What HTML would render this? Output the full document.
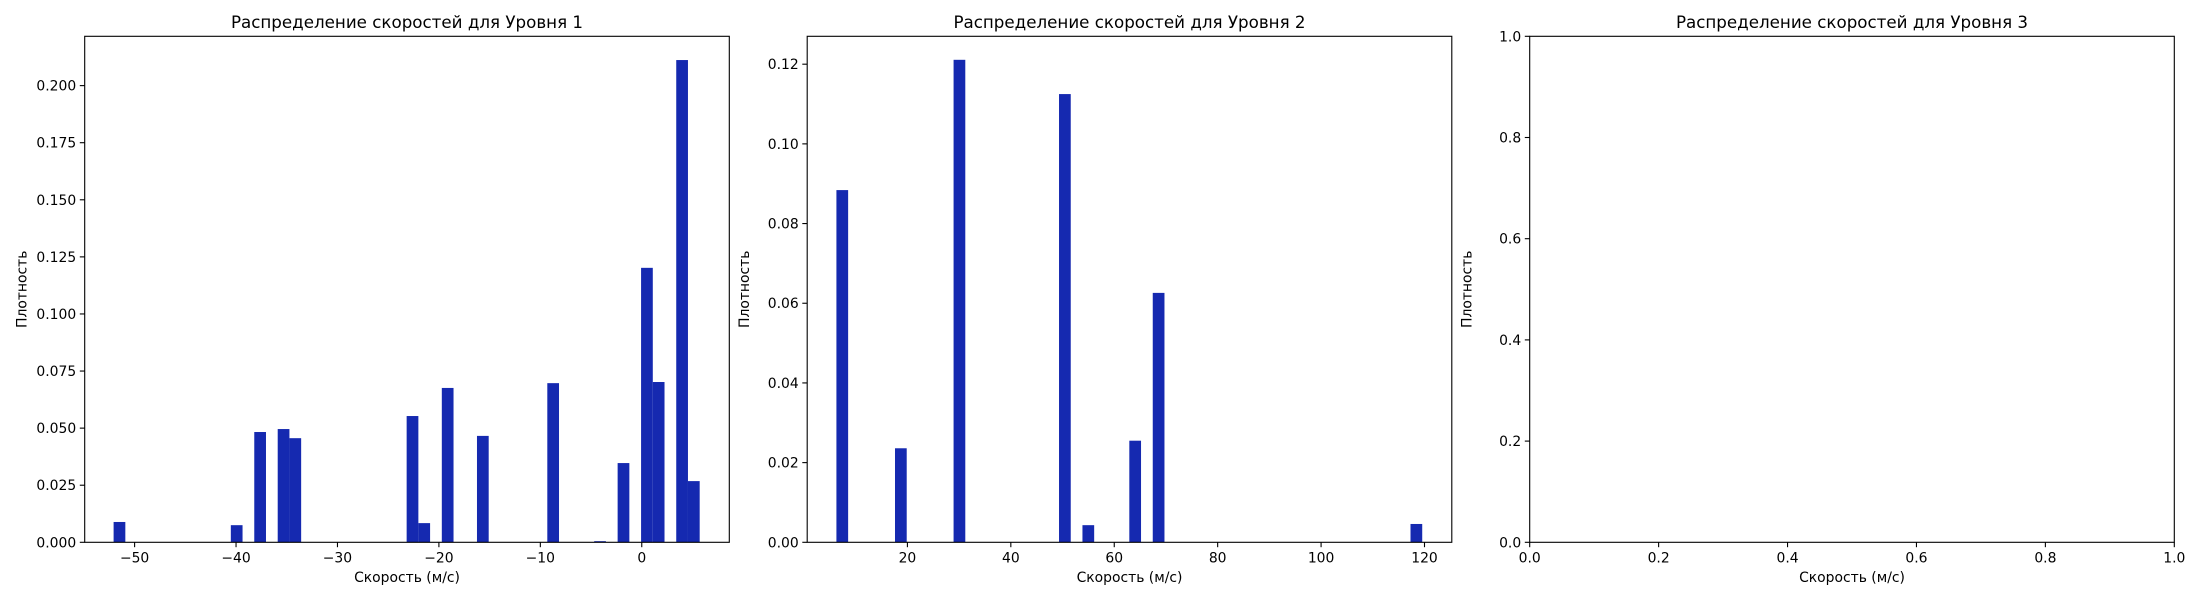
<!DOCTYPE html>
<html><head><meta charset="utf-8">
<style>
html,body{margin:0;padding:0;background:#fff;}
svg{display:block;font-family:"DejaVu Sans","Liberation Sans",sans-serif;}
</style></head>
<body>
<svg id="fig" width="2200" height="600" viewBox="0 0 2200 600" xmlns="http://www.w3.org/2000/svg"></svg>
<script>
// Panel 1 data
const p1Bins = [0,10,12,14,15,25,26,28,31,37,41,43,45,46,48,49];
const p1Values = [0.0089,0.0075,0.0483,0.0496,0.0456,0.0553,0.0084,0.0676,0.0466,0.0697,0.0005,0.0347,0.1202,0.0702,0.2112,0.0268];
const p1Range = [-52.07, 5.71];
const p1XTicks = [-50,-40,-30,-20,-10,0];
const p1YTicks = ["0.000","0.025","0.050","0.075","0.100","0.125","0.150","0.175","0.200"];
// Panel 2 data
const p2Bins = [0,5,10,19,21,25,27,49];
const p2Values = [0.0884,0.0236,0.1211,0.1125,0.0043,0.0255,0.0626,0.0046];
const p2Range = [6.27, 119.56];
const p2XTicks = [20,40,60,80,100,120];
const p2YTicks = ["0.00","0.02","0.04","0.06","0.08","0.10","0.12"];
// Panel 3
const p3XTicks = ["0.0","0.2","0.4","0.6","0.8","1.0"];
const p3YTicks = ["0.0","0.2","0.4","0.6","0.8","1.0"];
const nBins = 50;

const NS = "http://www.w3.org/2000/svg";
const svg = document.getElementById('fig');
const TOP = 36.3, BOT = 542.3, W = 644.6;
function mk(tag, attrs, parent){
  const e = document.createElementNS(NS, tag);
  for (const k in attrs) e.setAttribute(k, attrs[k]);
  (parent||svg).appendChild(e);
  return e;
}
function panel(idx, left, xdom, ydom, xticks, yticks, title, bins, vals, range){
  const g = mk('g', {});
  
  
  const xs = v => left + (v - xdom[0]) / (xdom[1] - xdom[0]) * W;
  const ys = v => BOT - (v - ydom[0]) / (ydom[1] - ydom[0]) * (BOT - TOP);
  if (bins) {
    const bw = (range[1] - range[0]) / nBins;
    bins.forEach((b, i) => {
      const x0 = xs(range[0] + b * bw), x1 = xs(range[0] + (b + 1) * bw);
      const r = mk('rect', {x: x0, y: ys(vals[i]), width: x1 - x0, height: BOT - ys(vals[i]), fill: '#1529b0'}, g);
      
      
    });
  }
  xticks.forEach(t => {
    const v = parseFloat(t), x = xs(v);
    mk('line', {x1: x, x2: x, y1: BOT, y2: BOT + 4.9, stroke: '#000', 'stroke-width': 1.1}, g);
    const tx = mk('text', {x: x, y: BOT + 20, 'font-size': 13.9, 'text-anchor': 'middle'}, g);
    tx.textContent = (typeof t === 'number' && t < 0) ? '\u2212' + Math.abs(t) : String(t);
    
    
  });
  yticks.forEach(t => {
    const y = ys(parseFloat(t));
    mk('line', {x1: left - 4.9, x2: left, y1: y, y2: y, stroke: '#000', 'stroke-width': 1.1}, g);
    const ty = mk('text', {x: left - 8.5, y: y + 5, 'font-size': 13.9, 'text-anchor': 'end'}, g);
    ty.textContent = t;
    
    
  });
  const fr = mk('rect', {x: left, y: TOP, width: W, height: BOT - TOP, fill: 'none', stroke: '#000', 'stroke-width': 1.1}, g);
  
  
  const ti = mk('text', {x: left + W / 2, y: 28, 'font-size': 16.7, 'text-anchor': 'middle'}, g);
  ti.textContent = title;
  
  
  const xl = mk('text', {x: left + W / 2, y: 582, 'font-size': 13.9, 'text-anchor': 'middle'}, g);
  xl.textContent = 'Скорость (м/с)';
  
  
  const yl = mk('text', {x: 0, y: 0, 'font-size': 13.9, 'text-anchor': 'middle', transform: 'translate(' + (left - 58) + ',' + ((TOP + BOT) / 2) + ') rotate(-90)'}, g);
  yl.textContent = 'Плотность';
  
  
}
panel(1, 84.7, [-54.92, 8.63], [0, 0.2216], p1XTicks, p1YTicks, 'Распределение скоростей для Уровня 1', p1Bins, p1Values, p1Range);
panel(2, 807.2, [0.62, 125.28], [0, 0.127], p2XTicks, p2YTicks, 'Распределение скоростей для Уровня 2', p2Bins, p2Values, p2Range);
panel(3, 1529.7, [0, 1], [0, 1], p3XTicks, p3YTicks, 'Распределение скоростей для Уровня 3', null, null, null);
</script>
</body></html>
